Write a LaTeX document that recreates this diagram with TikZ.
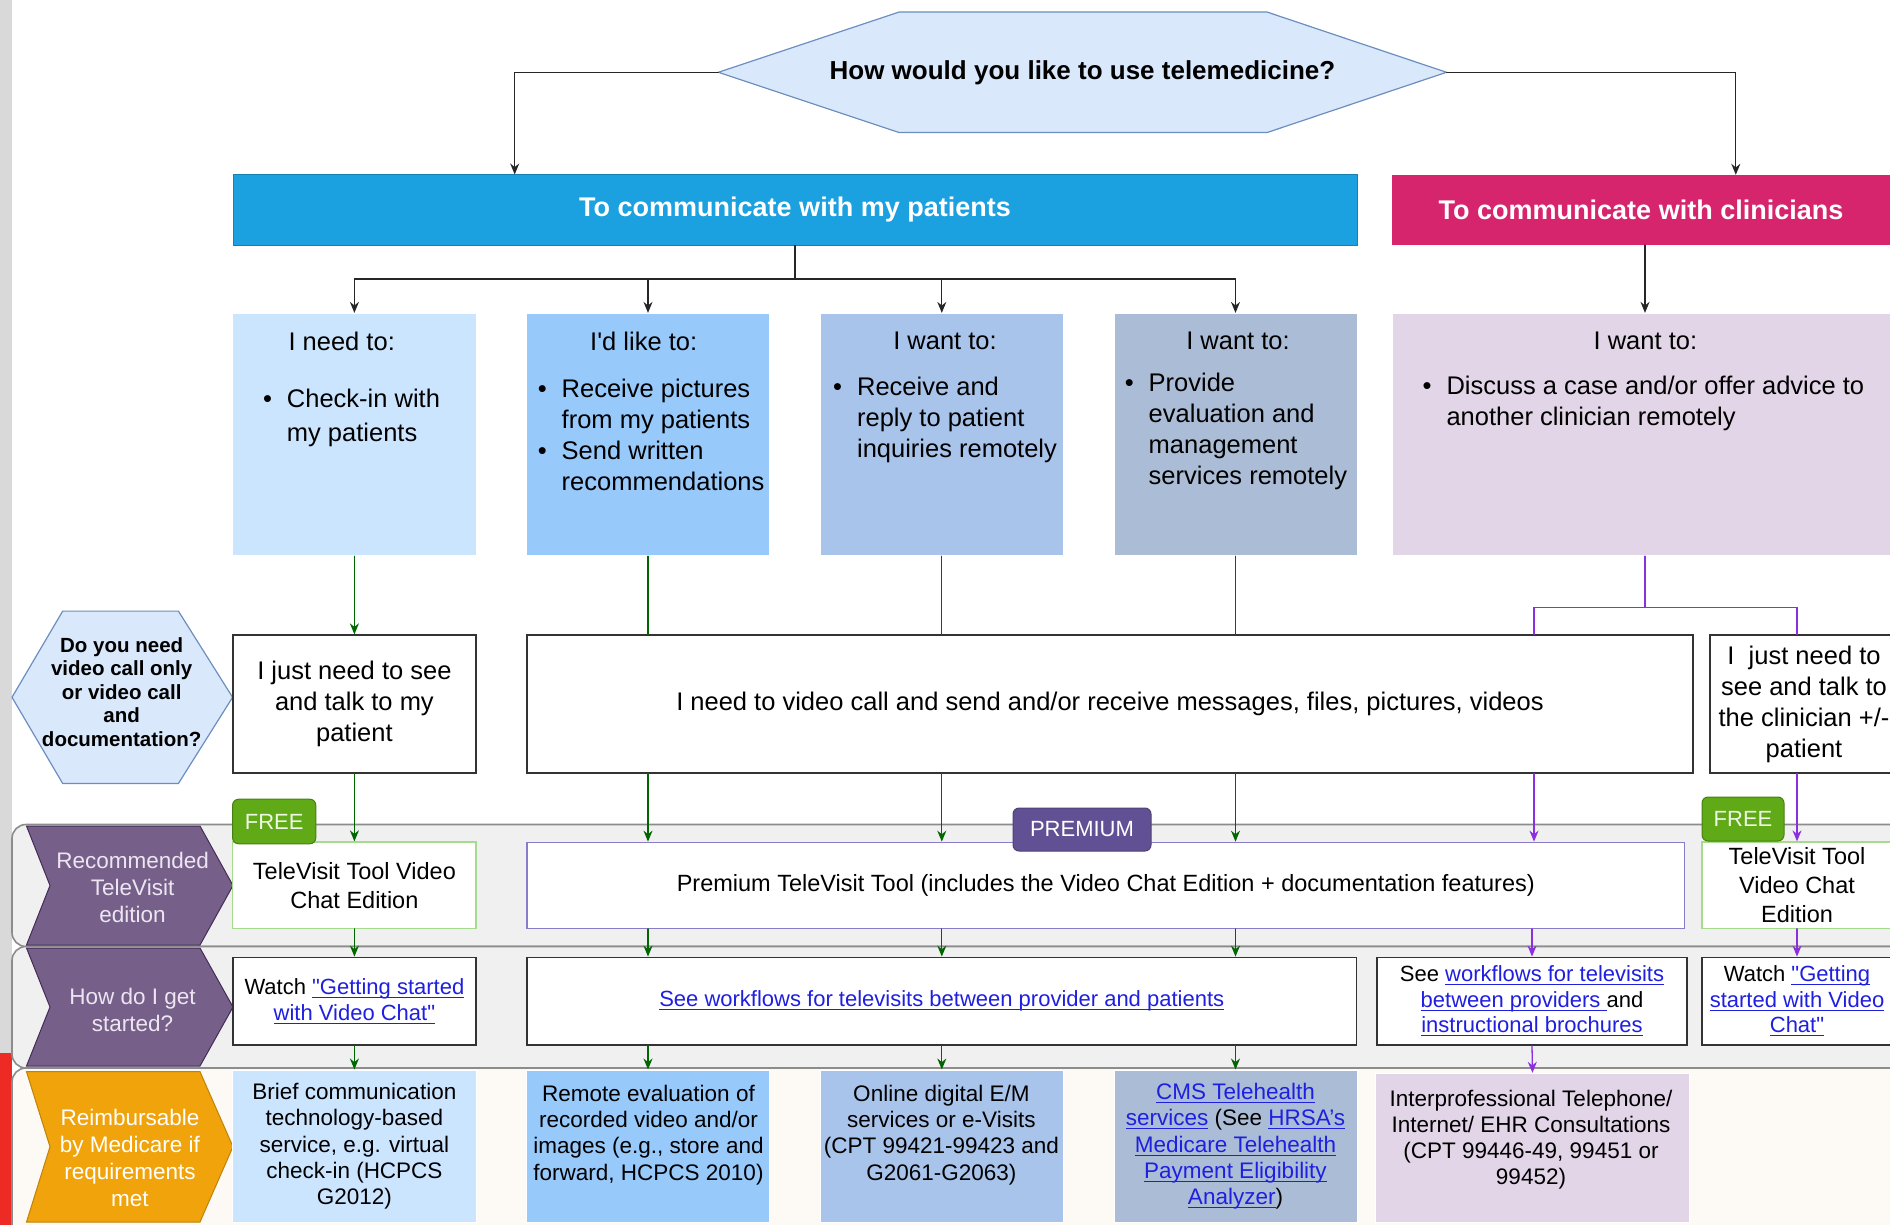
\documentclass[tikz,border=0pt]{standalone}
\usepackage{fontspec}
\setmainfont{Liberation Sans}
\usepackage{tikz}
\usetikzlibrary{arrows.meta}
\usepackage{xcolor}
\definecolor{qfill}{HTML}{DAE8FC}
\definecolor{qline}{HTML}{6C8EBF}
\definecolor{patblue}{HTML}{1BA0E0}
\definecolor{clinpink}{HTML}{D6256D}
\definecolor{needblue}{HTML}{CCE5FF}
\definecolor{likeblue}{HTML}{97C9FB}
\definecolor{wantblue}{HTML}{A9C4EB}
\definecolor{evalblue}{HTML}{ABBDD6}
\definecolor{clinlilac}{HTML}{E1D5E7}
\definecolor{lanegray}{HTML}{F0F0F0}
\definecolor{lanecream}{HTML}{FDFAF5}
\definecolor{lanepurple}{HTML}{76608A}
\definecolor{chevline}{HTML}{432D57}
\definecolor{laneorange}{HTML}{F0A30A}
\definecolor{lanelabel}{HTML}{EDE6F2}
\definecolor{freegreen}{HTML}{60A917}
\definecolor{freeline}{HTML}{A6DB8E}
\definecolor{tagtext}{HTML}{EEF8E4}
\definecolor{premviolet}{HTML}{615194}
\definecolor{premline}{HTML}{8A7CC8}
\definecolor{pathgreen}{HTML}{006600}
\definecolor{pathpurple}{HTML}{8B2FE0}
\definecolor{linkblue}{HTML}{1F1FE0}
\definecolor{alertred}{HTML}{EE2A24}
\newcommand{\lnk}[1]{\begingroup\color{linkblue}\setbox0=\hbox{#1}\rlap{\rule[-3.5pt]{\wd0}{1.1pt}}\box0\endgroup}
\newcommand{\fsz}[2]{\fontsize{#1}{#2}\selectfont}
\newcommand{\dq}{\textquotedbl}

\begin{document}
\begin{tikzpicture}[x=1pt,y=-1pt,>={Stealth[length=11pt,width=9pt]},line cap=round,
  every node/.style={inner sep=0pt,align=center},
  body/.style={font=\fsz{25.5}{31}},
  rowtwo/.style={font=\fsz{22}{25.5}},
  rowthree/.style={font=\fsz{22.5}{26.2}},
  wish/.style={draw=white,line width=1pt},
  bar/.style={text=white,font=\bfseries\fsz{27}{32},minimum height=70pt},
  plain/.style={draw=black!80,line width=1.8pt,fill=white},
  freebox/.style={draw=freeline,line width=1.3pt,fill=white,font=\fsz{23.5}{29}},
  tag/.style={rounded corners=6pt,line width=1pt,text=tagtext,font=\fsz{22}{26}},
  lane/.style={draw=black!45,line width=1.6pt,rounded corners=14pt},
  chev/.style={draw=chevline,line width=1pt},
  lanetext/.style={text=lanelabel,font=\fsz{22.5}{27}},
  qarrow/.style={draw=black!85,line width=1.3pt},
  gline/.style={draw=pathgreen,line width=1.3pt},
  pline/.style={draw=pathpurple,line width=1.3pt}]
\useasboundingbox (0,0) rectangle (1890,1225);
\fill[black!15] (0,0) rectangle (11.7,1053);
\fill[alertred] (0,1053) rectangle (11.7,1225);

\draw[lane,fill=lanegray] (12,824.5) rectangle (1920,946.5);
\draw[lane,fill=lanegray] (12,946.5) rectangle (1920,1068);
\draw[lane,fill=lanecream] (12,1068) rectangle (1920,1250);
\filldraw[chev,fill=lanepurple] (26.5,826) -- (200,826) -- (233,885.5) -- (200,945) -- (26.5,945) -- (50,885.5) -- cycle;
\filldraw[chev,fill=lanepurple] (26.5,948) -- (200,948) -- (233,1007) -- (200,1066) -- (26.5,1066) -- (50,1007) -- cycle;
\filldraw[chev,draw=laneorange!80!black,fill=laneorange] (26.5,1071.7) -- (200,1071.7) -- (233,1146.7) -- (200,1222) -- (26.5,1222) -- (50,1146.7) -- cycle;
\node[lanetext] (laneA) at (132.6,887) {Recommended\\TeleVisit\\edition};
\node[lanetext] (laneB) at (132.6,1010) {How do I get\\started?};
\node[lanetext,text=white] (laneC) at (130,1158) {Reimbursable\\by Medicare if\\requirements\\met};

\filldraw[draw=qline,fill=qfill,line width=1.2pt] (718.4,72.3) -- (899.2,12) -- (1266.9,12) -- (1446.5,72.3) -- (1266.9,132.6) -- (899.2,132.6) -- cycle;
\node[font=\bfseries\fsz{26}{31},minimum width=728.1pt,minimum height=120.6pt] (hexq) at (1082.45,72.3) {How would you like to use telemedicine?};
\filldraw[draw=qline,fill=qfill,line width=1.2pt] (12,697.3) -- (62.7,611.1) -- (178.4,611.1) -- (232.6,697.3) -- (178.4,783.5) -- (62.7,783.5) -- cycle;
\node[font=\bfseries\fsz{20.5}{23.5}] (hexv) at (121.7,692) {Do you need\\video call only\\or video call\\and\\documentation?};

\node[bar,fill=patblue,draw=patblue!80!black,line width=1pt,minimum width=1124pt] (pat) at (795,210) {To communicate with my patients};
\node[bar,fill=clinpink,minimum width=498pt] (clin) at (1641,210) {To communicate with clinicians};

\node[wish,fill=needblue,minimum width=243.4pt,minimum height=242.3pt] (boxA) at (354.4,434.55) {};
\node[wish,fill=likeblue,minimum width=242.4pt,minimum height=242.3pt] (boxB) at (648,434.55) {};
\node[wish,fill=wantblue,minimum width=242.6pt,minimum height=242.3pt] (boxC) at (941.8,434.55) {};
\node[wish,fill=evalblue,minimum width=243pt,minimum height=242.3pt] (boxD) at (1235.5,434.55) {};
\node[wish,fill=clinlilac,minimum width=506pt,minimum height=242.3pt] (boxE) at (1645,434.55) {};
\node[body] (hdA) at (341.7,341) {I need to:};
\node[body] (hdB) at (643.7,341) {I\textquotesingle d like to:};
\node[body] (hdC) at (945,341) {I want to:};
\node[body] (hdD) at (1238,341) {I want to:};
\node[body] (hdE) at (1645.4,341) {I want to:};
\node[body,anchor=west] (lsA) at (262.8,418) {\begin{tabular}{@{}l@{\hspace{15pt}}l@{}}\textbullet & Check-in with\\[2.7pt] & my patients\end{tabular}};
\node[body,anchor=west] (lsB) at (537.6,437.8) {\begin{tabular}{@{}l@{\hspace{15pt}}l@{}}\textbullet & Receive pictures\\ & from my patients\\ \textbullet & Send written\\ & recommendations\end{tabular}};
\node[body,anchor=west] (lsC) at (833,420.5) {\begin{tabular}{@{}l@{\hspace{15pt}}l@{}}\textbullet & Receive and\\ & reply to patient\\ & inquiries remotely\end{tabular}};
\node[body,anchor=west] (lsD) at (1124.6,431.5) {\begin{tabular}{@{}l@{\hspace{15pt}}l@{}}\textbullet & Provide\\ & evaluation and\\ & management\\ & services remotely\end{tabular}};
\node[body,anchor=west] (lsE) at (1422.4,404) {\begin{tabular}{@{}l@{\hspace{15pt}}l@{}}\textbullet & Discuss a case and/or offer advice to\\ & another clinician remotely\end{tabular}};

\node[plain,body,minimum width=243.4pt,minimum height=137.5pt] (needA) at (354.4,704) {I just need to see\\and talk to my\\patient};
\node[plain,body,minimum width=1166pt,minimum height=137.5pt] (vcall) at (1110,704) {I need to video call and send and/or receive messages, files, pictures, videos};
\node[plain,body,minimum width=188pt,minimum height=137.5pt] (justc) at (1804,704) {I\ \ just need to\\see and talk to\\the clinician +/-\\patient};

\node[freebox,minimum width=243.4pt,minimum height=86.2pt] (tvA) at (354.4,885.1) {TeleVisit Tool Video\\Chat Edition};
\node[freebox,draw=premline,minimum width=1157.6pt,minimum height=86pt] (prem) at (1105.8,885.3) {Premium TeleVisit Tool (includes the Video Chat Edition + documentation features)};
\node[freebox,minimum width=190pt,minimum height=86.2pt] (tvB) at (1797,885.1) {TeleVisit Tool\\Video Chat\\Edition};

\node[plain,rowtwo,minimum width=243.4pt,minimum height=87.5pt] (watchA) at (354.4,1001.25) {Watch \lnk{\dq Getting started}\\\lnk{with Video Chat\dq}};
\node[plain,rowtwo,minimum width=829.5pt,minimum height=87.5pt] (wide) at (941.75,1001.25) {\lnk{See workflows for televisits between provider and patients}};
\node[plain,rowtwo,minimum width=310pt,minimum height=87.5pt] (prov) at (1532,1001.25) {See \lnk{workflows for televisits}\\\lnk{between providers\ }and\\\lnk{instructional brochures}};
\node[plain,rowtwo,minimum width=190pt,minimum height=87.5pt] (watchB) at (1797,1001.25) {Watch \lnk{\dq Getting}\\\lnk{started with Video}\\\lnk{Chat\dq}};

\node[wish,rowthree,fill=needblue,minimum width=243.4pt,minimum height=152.7pt] (rA) at (354.4,1146.35) {Brief communication\\technology-based\\service, e.g. virtual\\check-in (HCPCS\\G2012)};
\node[wish,fill=likeblue,minimum width=242.4pt,minimum height=152.7pt] (rB) at (648,1146.35) {};
\node[rowthree] (tB) at (648.5,1135) {Remote evaluation of\\recorded video and/or\\images (e.g., store and\\forward, HCPCS 2010)};
\node[wish,fill=wantblue,minimum width=242.6pt,minimum height=152.7pt] (rC) at (941.8,1146.35) {};
\node[rowthree] (tC) at (941.4,1135) {Online digital E/M\\services or e-Visits\\(CPT 99421-99423 and\\G2061-G2063)};
\node[wish,rowthree,fill=evalblue,minimum width=243pt,minimum height=152.7pt] (rD) at (1235.5,1146.35) {\lnk{CMS Telehealth}\\\lnk{services} (See \lnk{HRSA's}\\\lnk{Medicare Telehealth}\\\lnk{Payment Eligibility}\\\lnk{Analyzer})};
\node[wish,fill=clinlilac,minimum width=313.8pt,minimum height=149.4pt] (rE) at (1532.5,1148) {};
\node[rowthree] (tE) at (1531,1139.5) {Interprofessional Telephone/\\Internet/ EHR Consultations\\(CPT 99446-49, 99451 or\\99452)};

\coordinate (patin) at (514.7,0);
\coordinate (clinin) at (1735.8,0);
\coordinate (patsplit) at (795,279);
\coordinate (esplit) at (1645,607.3);
\coordinate (pv) at (1534,0);
\coordinate (pr) at (1797,0);
\draw[qarrow,->] (hexq.west) -| (pat.north -| patin);
\draw[qarrow,->] (hexq.east) -| (clin.north -| clinin);
\draw[qarrow] (pat.south) -- (patsplit);
\foreach \col in {boxA,boxB,boxC,boxD} \draw[qarrow,->] (patsplit) -| (\col.north);
\draw[qarrow,->] (clin.south -| boxE.north) -- (boxE.north);

\draw[gline,->] (boxA.south) -- (needA.north);
\foreach \col in {boxB,boxC,boxD} \draw[gline] (\col.south) -- (\col.south |- vcall.north);
\draw[gline,->] (needA.south) -- (tvA.north);
\foreach \col in {boxB,boxC,boxD} \draw[gline,->] (\col.south |- vcall.south) -- (\col.south |- prem.north);
\draw[gline,->] (tvA.south) -- (watchA.north);
\foreach \col in {boxB,boxC,boxD} \draw[gline,->] (\col.south |- prem.south) -- (\col.south |- wide.north);
\draw[gline,->] (watchA.south) -- (rA.north);
\foreach \col in {rB,rC,rD} \draw[gline,->] (\col.north |- wide.south) -- (\col.north);

\draw[pline] (boxE.south) -- (esplit);
\draw[pline] (esplit) -| (vcall.north -| pv);
\draw[pline] (esplit) -| (justc.north -| pr);
\draw[pline,->] (vcall.south -| pv) -- (prem.north -| pv);
\draw[pline,->] (justc.south -| pr) -- (tvB.north);
\draw[pline,->] (prem.south -| prov.north) -- (prov.north);
\draw[pline,->] (tvB.south) -- (watchB.north);
\draw[pline,->] (prov.south) -- (rE.north);

\node[tag,fill=freegreen,draw=freegreen!75!black,minimum width=83.2pt,minimum height=44.6pt] (freeA) at (274.2,821.5) {FREE};
\node[tag,fill=premviolet,draw=premviolet!80!black,text=white,minimum width=138pt,minimum height=43pt] (premtag) at (1082,829.5) {PREMIUM};
\node[tag,fill=freegreen,draw=freegreen!75!black,minimum width=82pt,minimum height=44pt] (freeB) at (1743,819) {FREE};
\end{tikzpicture}
\end{document}
